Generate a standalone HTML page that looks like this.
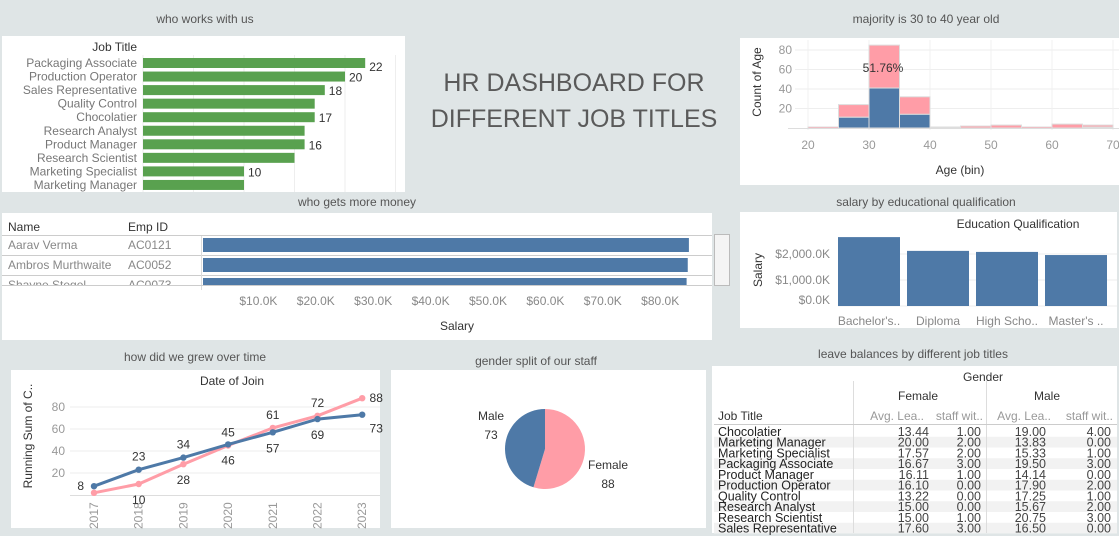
<!DOCTYPE html>
<html><head><meta charset="utf-8"><style>
html,body{margin:0;padding:0;background:#dfe5e6;}
svg{display:block;font-family:"Liberation Sans",sans-serif;}
</style></head><body>
<svg id="s" width="1119" height="536" viewBox="0 0 1119 536">
<rect x="0" y="0" width="1119" height="536" fill="#dfe5e6"/>
<g font-size="12" fill="#555" text-anchor="middle">
<text x="205" y="23">who works with us</text>
<text x="926" y="23">majority is 30 to 40 year old</text>
<text x="357" y="206">who gets more money</text>
<text x="926" y="206">salary by educational qualification</text>
<text x="195" y="361">how did we grew over time</text>
<text x="536" y="365">gender split of our staff</text>
<text x="913" y="358">leave balances by different job titles</text>
</g>
<g font-size="25" fill="#5a5a5a" text-anchor="middle">
<text x="574" y="91">HR DASHBOARD FOR</text>
<text x="574" y="127">DIFFERENT JOB TITLES</text>
</g>
<g fill="#fff">
<rect x="2" y="36" width="403" height="156"/>
<rect x="740" y="38" width="379" height="147"/>
<rect x="2" y="213" width="710" height="127"/>
<rect x="740" y="212" width="377" height="116"/>
<rect x="11" y="370" width="369" height="158"/>
<rect x="391" y="370" width="315" height="158"/>
<rect x="712" y="366" width="405" height="167"/>
</g>
<g id="g1"></g><g id="g2"></g><g id="g3"></g><g id="g4"></g><g id="g5"></g><g id="g6"></g><g id="g7"></g>
</svg>
<script>
// ---- data ----
const jobTitles=["Packaging Associate","Production Operator","Sales Representative","Quality Control","Chocolatier","Research Analyst","Product Manager","Research Scientist","Marketing Specialist","Marketing Manager"];
const jobCounts=[22,20,18,17,17,16,16,15,10,10];
const jobLabelShown=[true,true,true,false,true,false,true,false,true,false];
const ageBins=[20,25,30,35,40,45,50,55,60,65];
const ageMale=[0,11,41,14,1,0,0,0,0,1];
const ageFemale=[1,13,44,18,0,2,3,1,4,2];
const ageTicks=[20,30,40,50,60,70];
const countTicks=[20,40,60,80];
const empNames=["Aarav Verma","Ambros Murthwaite","Shayne Stegel"];
const empIds=["AC0121","AC0052","AC0073"];
const empSalary=[85.0,84.8,84.6];
const salaryTicks=[10,20,30,40,50,60,70,80];
const eduCats=["Bachelor's..","Diploma","High Scho..","Master's .."];
const eduSalary=[2650,2120,2080,1960];
const eduTicks=[0,1000,2000];
const years=[2017,2018,2019,2020,2021,2022,2023];
const maleRun=[8,23,34,46,57,69,73];
const femaleRun=[2,10,28,45,61,72,88];
const maleLabelAbove=[null,true,true,false,false,false,false];
const femaleLabelShown=[false,true,true,true,true,true,true];
const runTicks=[20,40,60,80];
const genderCounts=[88,73];
const genderNames=["Female","Male"];
const leaveJobs=["Chocolatier","Marketing Manager","Marketing Specialist","Packaging Associate","Product Manager","Production Operator","Quality Control","Research Analyst","Research Scientist","Sales Representative"];
const fAvgLeave=[13.44,20.00,17.57,16.67,16.11,16.10,13.22,15.00,15.00,17.60];
const fStaff=[1,2,2,3,1,0,0,0,1,3];
const mAvgLeave=[19.00,13.83,15.33,19.50,14.14,17.90,17.25,15.67,20.75,16.50];
const mStaff=[4,0,1,3,0,2,1,2,3,0];

const NS="http://www.w3.org/2000/svg";
function mk(tag,attrs,parent,txt){const e=document.createElementNS(NS,tag);for(const k in attrs)e.setAttribute(k,attrs[k]);if(txt!==undefined)e.textContent=txt;parent.appendChild(e);return e;}
const GREY="#777",DARK="#333",BLUE="#4e79a7",PINK="#ff9da7";

// ---- 1 job bar chart ----
(function(){
const g=document.getElementById('g1');
const x0=143,k=10.1,y0=63,step=13.55;
const xs=v=>x0+v*k;
for(let t=0;t<=25;t+=5){const l=mk('line',{x1:xs(t),x2:xs(t),y1:55,y2:192,stroke:'#eee'},g);

}
const h=mk('text',{x:137,y:51,'text-anchor':'end','font-size':12,fill:DARK},g,'Job Title');


jobTitles.forEach((n,i)=>{const cy=y0+i*step;
const t=mk('text',{x:137,y:cy+4,'text-anchor':'end','font-size':12,fill:GREY},g,n);


const r=mk('rect',{x:x0,y:cy-5,width:jobCounts[i]*k,height:10,fill:'#59a14f'},g);


if(jobLabelShown[i]){const v=mk('text',{x:xs(jobCounts[i])+4,y:cy+(i==0?8:5),'font-size':12,fill:DARK},g,jobCounts[i]);

}
});
})();

// ---- 2 histogram ----
(function(){
const g=document.getElementById('g2');
const xs=v=>808+(v-20)*6.1, ys=v=>128-v*0.975;
countTicks.forEach(t=>{const l=mk('line',{x1:795,x2:1119,y1:ys(t),y2:ys(t),stroke:'#eee'},g);


const tx=mk('text',{x:792,y:ys(t)+4,'text-anchor':'end','font-size':12,fill:'#999'},g,t);

});
ageTicks.forEach(t=>{const l=mk('line',{x1:xs(t),x2:xs(t),y1:40,y2:130,stroke:'#f0f0f0'},g);


const tx=mk('text',{x:xs(t),y:149,'text-anchor':'middle','font-size':12,fill:'#999'},g,t);

});
ageBins.forEach((b,i)=>{const x=xs(b),w=5*6.1;
const tot=ageMale[i]+ageFemale[i];
const rf=mk('rect',{x:x,y:ys(tot),width:w,height:Math.max(ageFemale[i]*0.975,1.5),fill:ageFemale[i]?PINK:'#ddd',stroke:'#ddd','stroke-width':1},g);


if(ageMale[i]){const rm=mk('rect',{x:x,y:ys(ageMale[i]),width:w,height:ageMale[i]*0.975,fill:BLUE,stroke:'#ddd','stroke-width':1},g);

}
});
const a=mk('line',{x1:788,x2:1119,y1:128.5,y2:128.5,stroke:'#ddd'},g);


const p=mk('text',{x:883,y:72,'text-anchor':'middle','font-size':12,fill:DARK},g,'51.76%');


const yt=mk('text',{x:0,y:0,transform:'translate(761,82) rotate(-90)','text-anchor':'middle','font-size':12,fill:DARK},g,'Count of Age');


const xt=mk('text',{x:960,y:174,'text-anchor':'middle','font-size':12,fill:DARK},g,'Age (bin)');


})();

// ---- 3 salary table bars ----
(function(){
const g=document.getElementById('g3');
const xs=v=>201+v*5.74;
const hn=mk('text',{x:8,y:231,'font-size':12,fill:DARK},g,'Name');


const hi=mk('text',{x:128,y:231,'font-size':12,fill:DARK},g,'Emp ID');


const cl=mk('rect',{x:2,y:236,width:710,height:50,fill:'#fff'},g);


[235.5,255.5,275.5].forEach(y=>{const l=mk('line',{x1:2,x2:712,y1:y,y2:y,stroke:'#ccc'},g);

});
const vl=mk('line',{x1:201.5,x2:201.5,y1:236,y2:290,stroke:'#ddd'},g);


const clip=mk('clipPath',{id:'rowclip'},g);mk('rect',{x:0,y:236,width:712,height:50},clip);
const rows=mk('g',{'clip-path':'url(#rowclip)'},g);
empNames.forEach((n,i)=>{const cy=245+i*20;
const t=mk('text',{x:8,y:cy+4,'font-size':12,fill:'#888'},rows,n);


const t2=mk('text',{x:128,y:cy+4,'font-size':12,fill:'#888'},rows,empIds[i]);


const r=mk('rect',{x:203,y:cy-7,width:xs(empSalary[i])-203,height:14,fill:BLUE},rows);

});
const bl=mk('line',{x1:2,x2:712,y1:285.5,y2:285.5,stroke:'#ccc'},g);


const sb=mk('rect',{x:714.5,y:234.5,width:15,height:51,fill:'#f4f4f4',stroke:'#bbb'},g);


salaryTicks.forEach(t=>{const tx=mk('text',{x:xs(t),y:305,'text-anchor':'middle','font-size':12,fill:'#888'},g,'$'+t+'.0K');

});
const st=mk('text',{x:457,y:330,'text-anchor':'middle','font-size':12,fill:DARK},g,'Salary');


})();

// ---- 4 education ----
(function(){
const g=document.getElementById('g4');
const ys=v=>306-v*0.026;
const bw=62,gap=69,x0=838;
eduTicks.forEach(t=>{const l=mk('line',{x1:838,x2:1117,y1:ys(t),y2:ys(t),stroke:'#eee'},g);


const tx=mk('text',{x:830,y:ys(t)-(t?-4:2),'text-anchor':'end','font-size':12,fill:'#888'},g,'$'+t.toLocaleString('en-US')+'.0K');

});
const h=mk('text',{x:1018,y:228,'text-anchor':'middle','font-size':12,fill:DARK},g,'Education Qualification');


eduCats.forEach((c,i)=>{const x=x0+i*gap;
const r=mk('rect',{x:x,y:ys(eduSalary[i]),width:bw,height:eduSalary[i]*0.026,fill:BLUE},g);


const t=mk('text',{x:x+bw/2,y:325,'text-anchor':'middle','font-size':12,fill:'#888'},g,c);

});
const yt=mk('text',{x:0,y:0,transform:'translate(762,270) rotate(-90)','text-anchor':'middle','font-size':12,fill:DARK},g,'Salary');


})();

// ---- 5 line chart ----
(function(){
const g=document.getElementById('g5');
const xs=i=>94+i*44.7, ys=v=>495-v*1.1;
runTicks.forEach(t=>{const l=mk('line',{x1:70,x2:380,y1:ys(t),y2:ys(t),stroke:'#eee'},g);


const tx=mk('text',{x:65,y:ys(t)+4,'text-anchor':'end','font-size':12,fill:'#999'},g,t);

});
const ax=mk('line',{x1:70,x2:380,y1:495.5,y2:495.5,stroke:'#ddd'},g);


years.forEach((y,i)=>{const t=mk('text',{x:0,y:0,transform:`translate(${xs(i)+4},529) rotate(-90)`,'font-size':12,fill:'#999'},g,y);

});
const h=mk('text',{x:232,y:385,'text-anchor':'middle','font-size':12,fill:DARK},g,'Date of Join');


const yt=mk('text',{x:0,y:0,transform:'translate(32,436) rotate(-90)','text-anchor':'middle','font-size':12,fill:DARK},g,'Running Sum of C..');


[[femaleRun,PINK,'female'],[maleRun,BLUE,'male']].forEach(([d,c,nm])=>{
const pl=mk('polyline',{points:d.map((v,i)=>xs(i)+','+ys(v)).join(' '),fill:'none',stroke:c,'stroke-width':3},g);


d.forEach((v,i)=>{const p=mk('circle',{cx:xs(i),cy:ys(v),r:3.2,fill:c},g);

});
});
years.forEach((y,i)=>{
const m=maleRun[i],f=femaleRun[i];
const last=i==years.length-1;
const labs=[];
if(maleLabelAbove[i]===null){labs.push([m,xs(i)-10,ys(m)+4,'end']);}
else{
const up=maleLabelAbove[i];
labs.push([m,xs(i)+(last?14:0),up?ys(m)-9:ys(m)+(last?18:20),'middle']);
if(femaleLabelShown[i])labs.push([f,xs(i)+(last?14:0),up?ys(f)+20:ys(f)-(last?-4:9),'middle']);}
labs.forEach(([v,x,yy,a])=>{const t=mk('text',{x:x,y:yy,'text-anchor':a,'font-size':12,fill:DARK},g,v);

});
});
})();

// ---- 6 pie ----
(function(){
const g=document.getElementById('g6');
const cx=545,cy=449,r=40,tot=genderCounts.reduce((a,b)=>a+b,0);
const cols=[PINK,BLUE];let a0=0;
genderCounts.forEach((v,i)=>{const a1=a0+v/tot*2*Math.PI;
const x0=cx+r*Math.sin(a0),y0=cy-r*Math.cos(a0),x1=cx+r*Math.sin(a1),y1=cy-r*Math.cos(a1);
const p=mk('path',{d:`M${cx},${cy} L${x0},${y0} A${r},${r} 0 ${a1-a0>Math.PI?1:0} 1 ${x1},${y1} Z`,fill:cols[i]},g);


a0=a1;});
const pos=[[608,469],[491,420]];
genderNames.forEach((n,i)=>{const t=mk('text',{x:pos[i][0],y:pos[i][1],'text-anchor':'middle','font-size':12,fill:DARK},g,n);


const v=mk('text',{x:pos[i][0],y:pos[i][1]+19,'text-anchor':'middle','font-size':12,fill:DARK},g,genderCounts[i]);

});
})();

// ---- 7 leave table ----
(function(){
const g=document.getElementById('g7');
const y0=426,rh=10.75;
leaveJobs.forEach((j,i)=>{if(i%2==1){const s=mk('rect',{x:714,y:y0+i*rh,width:403,height:rh,fill:'#f2f2f2'},g);

}});
[[853.5,381,533],[986.5,381,533]].forEach(([x,a,b])=>{const l=mk('line',{x1:x,x2:x,y1:a,y2:b,stroke:'#ddd'},g);

});
const hl=mk('line',{x1:714,x2:1117,y1:424.5,y2:424.5,stroke:'#ccc'},g);


const hdr=[[983,381,'Gender','middle',DARK],[918,400,'Female','middle',DARK],[1047,400,'Male','middle',DARK],[718,420,'Job Title','start',DARK],
[924,420,'Avg. Lea..','end','#999'],[983,420,'staff wit..','end','#999'],[1051,420,'Avg. Lea..','end','#999'],[1113,420,'staff wit..','end','#999']];
hdr.forEach(([x,y,s,a,c])=>{const t=mk('text',{x:x,y:y,'text-anchor':a,'font-size':12,fill:c},g,s);

});
leaveJobs.forEach((j,i)=>{const y=y0+i*rh+rh-1;
const t=mk('text',{x:718,y:y,'font-size':12.5,fill:'#222'},g,j);


[[929,fAvgLeave[i]],[981,fStaff[i]],[1046,mAvgLeave[i]],[1111,mStaff[i]]].forEach(([x,v])=>{
const c=mk('text',{x:x,y:y,'text-anchor':'end','font-size':12.5,fill:'#444'},g,v.toFixed(2));

});
});
})();
</script>
</body></html>
